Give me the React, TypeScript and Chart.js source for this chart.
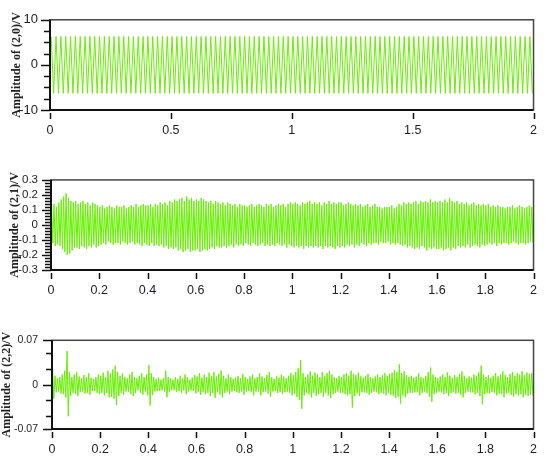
import React, { useEffect, useRef } from "react";
import { Chart, registerables } from "chart.js";
Chart.register(...registerables);

// ---------- axis ticks / labels ----------
const X_TICKS_TOP = [0, 0.5, 1, 1.5, 2];
const X_LABELS_TOP = ["0", "0.5", "1", "1.5", "2"];
const X_TICKS_LOW = [0, 0.2, 0.4, 0.6, 0.8, 1, 1.2, 1.4, 1.6, 1.8, 2];
const X_LABELS_LOW = ["0", "0.2", "0.4", "0.6", "0.8", "1", "1.2", "1.4", "1.6", "1.8", "2"];

const Y1_MAJOR = [-10, 0, 10];
const Y1_LABELS = ["-10", "0", "10"];
const Y1_MINOR = [-7.5, -5, -2.5, 2.5, 5, 7.5];

const Y2_MAJOR = [-0.3, -0.2, -0.1, 0, 0.1, 0.2, 0.3];
const Y2_LABELS = ["-0.3", "-0.2", "-0.1", "0", "0.1", "0.2", "0.3"];
const Y2_MINOR = [-0.28, -0.26, -0.24, -0.22, -0.18, -0.16, -0.14, -0.12, -0.08, -0.06, -0.04, -0.02,
  0.02, 0.04, 0.06, 0.08, 0.12, 0.14, 0.16, 0.18, 0.22, 0.24, 0.26, 0.28];

const Y3_MAJOR = [-0.07, 0, 0.07];
const Y3_LABELS = ["-0.07", "0", "0.07"];
const Y3_MINOR = [-0.05, -0.025, 0.025, 0.05];

const TITLES = ["Amplitude of (2,0)/V", "Amplitude of (2,1)/V", "Amplitude of (2,2)/V"];

// ---------- signal data (per-cycle peak / trough values) ----------
const P1_PERIOD = 0.02;
const P1_HIGH = [
  6.3, 6.3, 6.3, 6.3, 6.3, 6.3, 6.3, 6.3, 6.3, 6.3,
  6.3, 6.3, 6.3, 6.3, 6.3, 6.3, 6.3, 6.3, 6.3, 6.3,
  6.3, 6.3, 6.3, 6.3, 6.3, 6.3, 6.3, 6.3, 6.3, 6.3,
  6.3, 6.3, 6.3, 6.3, 6.3, 6.3, 6.3, 6.3, 6.3, 6.3,
  6.3, 6.3, 6.3, 6.3, 6.3, 6.3, 6.3, 6.3, 6.3, 6.3,
  6.3, 6.3, 6.3, 6.3, 6.3, 6.3, 6.3, 6.3, 6.3, 6.3,
  6.3, 6.3, 6.3, 6.3, 6.3, 6.3, 6.3, 6.3, 6.3, 6.3,
  6.3, 6.3, 6.3, 6.3, 6.3, 6.3, 6.3, 6.3, 6.3, 6.3,
  6.3, 6.3, 6.3, 6.3, 6.3, 6.3, 6.3, 6.3, 6.3, 6.3,
  6.3, 6.3, 6.3, 6.3, 6.3, 6.3, 6.3, 6.3, 6.3, 6.3,
];
const P1_LOW = [
  -6.3, -6.3, -6.3, -6.3, -6.3, -6.3, -6.3, -6.3, -6.3, -6.3,
  -6.3, -6.3, -6.3, -6.3, -6.3, -6.3, -6.3, -6.3, -6.3, -6.3,
  -6.3, -6.3, -6.3, -6.3, -6.3, -6.3, -6.3, -6.3, -6.3, -6.3,
  -6.3, -6.3, -6.3, -6.3, -6.3, -6.3, -6.3, -6.3, -6.3, -6.3,
  -6.3, -6.3, -6.3, -6.3, -6.3, -6.3, -6.3, -6.3, -6.3, -6.3,
  -6.3, -6.3, -6.3, -6.3, -6.3, -6.3, -6.3, -6.3, -6.3, -6.3,
  -6.3, -6.3, -6.3, -6.3, -6.3, -6.3, -6.3, -6.3, -6.3, -6.3,
  -6.3, -6.3, -6.3, -6.3, -6.3, -6.3, -6.3, -6.3, -6.3, -6.3,
  -6.3, -6.3, -6.3, -6.3, -6.3, -6.3, -6.3, -6.3, -6.3, -6.3,
  -6.3, -6.3, -6.3, -6.3, -6.3, -6.3, -6.3, -6.3, -6.3, -6.3,
];

const P2_PERIOD = 0.01;
const P2_HIGH = [
  0.13, 0.14, 0.12, 0.15, 0.17, 0.19, 0.21, 0.18, 0.16, 0.15,
  0.16, 0.14, 0.15, 0.16, 0.14, 0.15, 0.13, 0.15, 0.14, 0.13,
  0.12, 0.13, 0.11, 0.12, 0.13, 0.12, 0.11, 0.13, 0.12, 0.12,
  0.13, 0.11, 0.12, 0.13, 0.12, 0.14, 0.12, 0.13, 0.14, 0.13,
  0.13, 0.14, 0.12, 0.14, 0.13, 0.15, 0.14, 0.15, 0.13, 0.16,
  0.15, 0.17, 0.16, 0.17, 0.18, 0.16, 0.19, 0.17, 0.18, 0.16,
  0.17, 0.16, 0.18, 0.17, 0.16, 0.15, 0.16, 0.14, 0.16, 0.15,
  0.14, 0.15, 0.13, 0.15, 0.14, 0.13, 0.14, 0.12, 0.14, 0.13,
  0.13, 0.12, 0.13, 0.14, 0.12, 0.13, 0.14, 0.13, 0.12, 0.14,
  0.13, 0.14, 0.12, 0.13, 0.14, 0.13, 0.14, 0.12, 0.14, 0.15,
  0.14, 0.15, 0.14, 0.13, 0.15, 0.14, 0.15, 0.16, 0.14, 0.15,
  0.14, 0.15, 0.13, 0.15, 0.14, 0.16, 0.14, 0.15, 0.14, 0.15,
  0.15, 0.13, 0.14, 0.15, 0.14, 0.13, 0.14, 0.13, 0.14, 0.12,
  0.13, 0.14, 0.12, 0.13, 0.14, 0.12, 0.12, 0.11, 0.12, 0.12,
  0.12, 0.13, 0.11, 0.12, 0.14, 0.13, 0.15, 0.14, 0.15, 0.14,
  0.15, 0.16, 0.14, 0.16, 0.15, 0.16, 0.15, 0.17, 0.15, 0.16,
  0.15, 0.16, 0.15, 0.17, 0.15, 0.18, 0.16, 0.15, 0.16, 0.14,
  0.15, 0.14, 0.15, 0.13, 0.14, 0.15, 0.13, 0.14, 0.13, 0.14,
  0.13, 0.14, 0.12, 0.13, 0.12, 0.13, 0.12, 0.12, 0.11, 0.12,
  0.12, 0.13, 0.11, 0.12, 0.13, 0.12, 0.11, 0.12, 0.13, 0.12,
];
const P2_LOW = [
  -0.12, -0.14, -0.13, -0.14, -0.16, -0.18, -0.20, -0.19, -0.17, -0.15,
  -0.15, -0.16, -0.14, -0.15, -0.16, -0.14, -0.15, -0.13, -0.15, -0.14,
  -0.13, -0.12, -0.13, -0.11, -0.12, -0.13, -0.12, -0.12, -0.13, -0.11,
  -0.12, -0.13, -0.12, -0.11, -0.13, -0.12, -0.13, -0.14, -0.12, -0.13,
  -0.14, -0.12, -0.14, -0.13, -0.14, -0.13, -0.15, -0.14, -0.16, -0.15,
  -0.16, -0.15, -0.17, -0.16, -0.18, -0.17, -0.16, -0.18, -0.17, -0.17,
  -0.16, -0.18, -0.17, -0.16, -0.17, -0.16, -0.15, -0.16, -0.14, -0.15,
  -0.15, -0.14, -0.15, -0.14, -0.13, -0.15, -0.13, -0.14, -0.13, -0.14,
  -0.12, -0.13, -0.14, -0.12, -0.13, -0.14, -0.13, -0.12, -0.14, -0.13,
  -0.14, -0.13, -0.14, -0.12, -0.13, -0.14, -0.13, -0.15, -0.13, -0.14,
  -0.15, -0.14, -0.15, -0.14, -0.16, -0.14, -0.15, -0.14, -0.15, -0.14,
  -0.15, -0.14, -0.16, -0.14, -0.15, -0.14, -0.15, -0.16, -0.14, -0.15,
  -0.14, -0.15, -0.13, -0.14, -0.13, -0.15, -0.13, -0.14, -0.12, -0.13,
  -0.14, -0.12, -0.13, -0.12, -0.12, -0.13, -0.11, -0.12, -0.12, -0.11,
  -0.13, -0.12, -0.13, -0.12, -0.13, -0.14, -0.13, -0.15, -0.14, -0.15,
  -0.16, -0.15, -0.16, -0.14, -0.15, -0.17, -0.15, -0.16, -0.15, -0.16,
  -0.16, -0.15, -0.17, -0.16, -0.15, -0.17, -0.15, -0.16, -0.14, -0.15,
  -0.14, -0.15, -0.13, -0.15, -0.14, -0.13, -0.14, -0.15, -0.13, -0.14,
  -0.13, -0.12, -0.13, -0.12, -0.14, -0.12, -0.13, -0.12, -0.12, -0.13,
  -0.12, -0.11, -0.12, -0.13, -0.12, -0.12, -0.13, -0.12, -0.11, -0.12,
];

const P3_PERIOD = 0.01;
const P3_HIGH = [
  0.024, 0.014, 0.010, 0.012, 0.016, 0.022, 0.053, 0.020, 0.012, 0.016,
  0.020, 0.013, 0.010, 0.015, 0.012, 0.018, 0.011, 0.009, 0.012, 0.016,
  0.014, 0.019, 0.012, 0.022, 0.018, 0.024, 0.030, 0.020, 0.014, 0.018,
  0.012, 0.010, 0.016, 0.020, 0.012, 0.010, 0.014, 0.018, 0.012, 0.016,
  0.031, 0.018, 0.012, 0.009, 0.011, 0.008, 0.010, 0.022, 0.012, 0.010,
  0.008, 0.012, 0.009, 0.014, 0.010, 0.016, 0.012, 0.008, 0.011, 0.015,
  0.013, 0.018, 0.011, 0.016, 0.012, 0.019, 0.014, 0.020, 0.013, 0.017,
  0.022, 0.014, 0.010, 0.016, 0.012, 0.009, 0.011, 0.014, 0.010, 0.017,
  0.012, 0.009, 0.013, 0.016, 0.010, 0.012, 0.018, 0.013, 0.010, 0.015,
  0.020, 0.012, 0.009, 0.014, 0.011, 0.016, 0.013, 0.010, 0.014, 0.018,
  0.015, 0.020, 0.026, 0.039, 0.018, 0.012, 0.016, 0.021, 0.014, 0.019,
  0.016, 0.012, 0.020, 0.014, 0.018, 0.022, 0.016, 0.012, 0.010, 0.014,
  0.012, 0.016, 0.018, 0.014, 0.022, 0.017, 0.015, 0.019, 0.013, 0.011,
  0.014, 0.017, 0.012, 0.010, 0.013, 0.016, 0.012, 0.015, 0.018, 0.014,
  0.017, 0.019, 0.023, 0.020, 0.032, 0.018, 0.021, 0.015, 0.012, 0.014,
  0.011, 0.013, 0.018, 0.012, 0.010, 0.014, 0.020, 0.027, 0.016, 0.012,
  0.010, 0.013, 0.016, 0.012, 0.019, 0.014, 0.011, 0.015, 0.012, 0.017,
  0.021, 0.014, 0.010, 0.013, 0.011, 0.016, 0.014, 0.019, 0.030, 0.016,
  0.012, 0.015, 0.011, 0.014, 0.018, 0.013, 0.016, 0.021, 0.015, 0.012,
  0.017, 0.020, 0.014, 0.018, 0.016, 0.021, 0.015, 0.019, 0.017, 0.018,
];
const P3_LOW = [
  -0.022, -0.012, -0.011, -0.014, -0.015, -0.020, -0.050, -0.018, -0.013, -0.015,
  -0.018, -0.012, -0.011, -0.014, -0.013, -0.016, -0.010, -0.010, -0.013, -0.015,
  -0.013, -0.017, -0.013, -0.020, -0.019, -0.022, -0.032, -0.018, -0.013, -0.016,
  -0.011, -0.011, -0.015, -0.018, -0.013, -0.009, -0.013, -0.016, -0.011, -0.017,
  -0.033, -0.016, -0.011, -0.010, -0.010, -0.009, -0.011, -0.020, -0.011, -0.009,
  -0.009, -0.011, -0.010, -0.013, -0.009, -0.015, -0.011, -0.009, -0.010, -0.014,
  -0.012, -0.016, -0.012, -0.015, -0.013, -0.018, -0.013, -0.021, -0.012, -0.016,
  -0.020, -0.013, -0.011, -0.015, -0.011, -0.010, -0.012, -0.013, -0.011, -0.016,
  -0.011, -0.010, -0.012, -0.017, -0.011, -0.011, -0.017, -0.012, -0.011, -0.014,
  -0.019, -0.011, -0.010, -0.013, -0.012, -0.015, -0.012, -0.011, -0.013, -0.017,
  -0.014, -0.019, -0.024, -0.038, -0.017, -0.013, -0.015, -0.020, -0.013, -0.018,
  -0.015, -0.013, -0.019, -0.013, -0.017, -0.021, -0.015, -0.013, -0.011, -0.013,
  -0.013, -0.015, -0.017, -0.015, -0.036, -0.018, -0.014, -0.018, -0.012, -0.012,
  -0.013, -0.016, -0.013, -0.011, -0.012, -0.015, -0.013, -0.014, -0.017, -0.013,
  -0.016, -0.018, -0.021, -0.019, -0.030, -0.017, -0.020, -0.014, -0.013, -0.013,
  -0.012, -0.012, -0.017, -0.013, -0.011, -0.013, -0.019, -0.027, -0.015, -0.013,
  -0.011, -0.012, -0.015, -0.013, -0.018, -0.013, -0.012, -0.014, -0.013, -0.016,
  -0.020, -0.013, -0.011, -0.012, -0.012, -0.015, -0.013, -0.018, -0.031, -0.015,
  -0.013, -0.014, -0.012, -0.013, -0.017, -0.014, -0.015, -0.020, -0.014, -0.013,
  -0.016, -0.019, -0.015, -0.017, -0.015, -0.020, -0.016, -0.018, -0.016, -0.017,
];

const LINE_COLOR = "#66f000";
const TEXT_COLOR = "#1c1c28";

function toPoints(high: number[], low: number[], period: number) {
  const pts: { x: number; y: number }[] = [];
  for (let i = 0; i < high.length; i++) {
    pts.push({ x: i * period + period * 0.25, y: high[i] });
    pts.push({ x: i * period + period * 0.75, y: low[i] });
  }
  return pts;
}

const frameTicks = {
  id: "frameTicks",
  afterDraw(chart: any, _args: any, opts: any) {
    const { ctx, chartArea: a, scales } = chart;
    const xs = scales.x;
    const ys = scales.y;
    ctx.save();
    ctx.strokeStyle = "#444";
    ctx.lineWidth = 1.5;
    ctx.strokeRect(a.left, a.top, a.right - a.left, a.bottom - a.top);
    ctx.strokeStyle = "#111";
    ctx.lineWidth = 2;
    ctx.beginPath();
    ctx.moveTo(a.left, a.top);
    ctx.lineTo(a.left, a.bottom);
    ctx.lineTo(a.right, a.bottom);
    ctx.stroke();
    ctx.lineWidth = 1.5;
    ctx.beginPath();
    for (const v of opts.yMajor) {
      const y = Math.round(ys.getPixelForValue(v)) + 0.5;
      ctx.moveTo(a.left - 9, y);
      ctx.lineTo(a.left, y);
    }
    for (const v of opts.yMinor) {
      const y = Math.round(ys.getPixelForValue(v)) + 0.5;
      ctx.moveTo(a.left - 6, y);
      ctx.lineTo(a.left, y);
    }
    for (const v of opts.xMajor) {
      const x = Math.round(xs.getPixelForValue(v)) + 0.5;
      ctx.moveTo(x, a.bottom + 3);
      ctx.lineTo(x, a.bottom + 9);
    }
    ctx.stroke();
    ctx.restore();
  },
};

type PanelProps = {
  top: number;
  height: number;
  padTop: number;
  padRight: number;
  yWidth: number;
  xHeight: number;
  yLabelPad: number;
  yLabelSize: number;
  titlePad: number;
  title: string;
  high: number[];
  low: number[];
  period: number;
  yMin: number;
  yMax: number;
  yMajor: number[];
  yLabels: string[];
  yMinor: number[];
  xTicks: number[];
  xLabels: string[];
};

function Panel(p: PanelProps) {
  const ref = useRef<HTMLCanvasElement | null>(null);
  useEffect(() => {
    if (!ref.current) return;
    const chart = new Chart(ref.current, {
      type: "line",
      data: {
        datasets: [
          {
            data: toPoints(p.high, p.low, p.period),
            borderColor: LINE_COLOR,
            borderWidth: 1,
            pointRadius: 0,
            tension: 0,
            fill: false,
          },
        ],
      },
      options: {
        animation: false,
        responsive: false,
        events: [],
        layout: { padding: { top: p.padTop, right: p.padRight, left: 0, bottom: 0 } },
        plugins: {
          legend: { display: false },
          tooltip: { enabled: false },
          frameTicks: { yMajor: p.yMajor, yMinor: p.yMinor, xMajor: p.xTicks },
        } as any,
        scales: {
          x: {
            type: "linear",
            min: 0,
            max: 2,
            grid: { display: false, drawTicks: false, tickLength: 0 },
            border: { display: false },
            afterBuildTicks: (s: any) => {
              s.ticks = p.xTicks.map((v) => ({ value: v }));
            },
            afterFit: (s: any) => {
              s.height = p.xHeight;
            },
            ticks: {
              autoSkip: false,
              maxRotation: 0,
              padding: 13,
              color: TEXT_COLOR,
              font: { family: "Liberation Sans", size: 12.5 },
              callback: (_v: any, i: number) => p.xLabels[i],
            },
          },
          y: {
            type: "linear",
            min: p.yMin,
            max: p.yMax,
            grid: { display: false, drawTicks: false, tickLength: 0 },
            border: { display: false },
            afterBuildTicks: (s: any) => {
              s.ticks = p.yMajor.map((v) => ({ value: v }));
            },
            afterFit: (s: any) => {
              s.width = p.yWidth;
            },
            ticks: {
              autoSkip: false,
              padding: p.yLabelPad,
              color: TEXT_COLOR,
              font: { family: "Liberation Sans", size: p.yLabelSize },
              callback: (_v: any, i: number) => p.yLabels[i],
            },
            title: {
              display: true,
              text: p.title,
              color: "#222",
              font: { family: "Liberation Serif", weight: "bold", size: 12 },
              padding: { top: p.titlePad, bottom: 0 },
            },
          },
        },
      },
      plugins: [frameTicks],
    } as any);
    return () => chart.destroy();
  }, []);
  return (
    <div style={{ position: "absolute", left: 0, top: p.top, width: 550, height: p.height }}>
      <canvas ref={ref} width={550} height={p.height} style={{ display: "block" }} />
    </div>
  );
}

export default function App() {
  return (
    <div style={{ position: "absolute", left: 0, top: 0, width: 550, height: 457, background: "#fff", overflow: "hidden" }}>
      <Panel
        top={0} height={140} padTop={7} padRight={13} yWidth={50} xHeight={30}
        yLabelPad={12} yLabelSize={13} titlePad={10}
        title={TITLES[0]} high={P1_HIGH} low={P1_LOW} period={P1_PERIOD}
        yMin={-10} yMax={10} yMajor={Y1_MAJOR} yLabels={Y1_LABELS} yMinor={Y1_MINOR}
        xTicks={X_TICKS_TOP} xLabels={X_LABELS_TOP}
      />
      <Panel
        top={160} height={140} padTop={9} padRight={13} yWidth={51} xHeight={30}
        yLabelPad={13} yLabelSize={11.5} titlePad={8}
        title={TITLES[1]} high={P2_HIGH} low={P2_LOW} period={P2_PERIOD}
        yMin={-0.3} yMax={0.3} yMajor={Y2_MAJOR} yLabels={Y2_LABELS} yMinor={Y2_MINOR}
        xTicks={X_TICKS_LOW} xLabels={X_LABELS_LOW}
      />
      <Panel
        top={320} height={137} padTop={9} padRight={8} yWidth={52} xHeight={28}
        yLabelPad={14} yLabelSize={10.5} titlePad={0}
        title={TITLES[2]} high={P3_HIGH} low={P3_LOW} period={P3_PERIOD}
        yMin={-0.07} yMax={0.07} yMajor={Y3_MAJOR} yLabels={Y3_LABELS} yMinor={Y3_MINOR}
        xTicks={X_TICKS_LOW} xLabels={X_LABELS_LOW}
      />
    </div>
  );
}
